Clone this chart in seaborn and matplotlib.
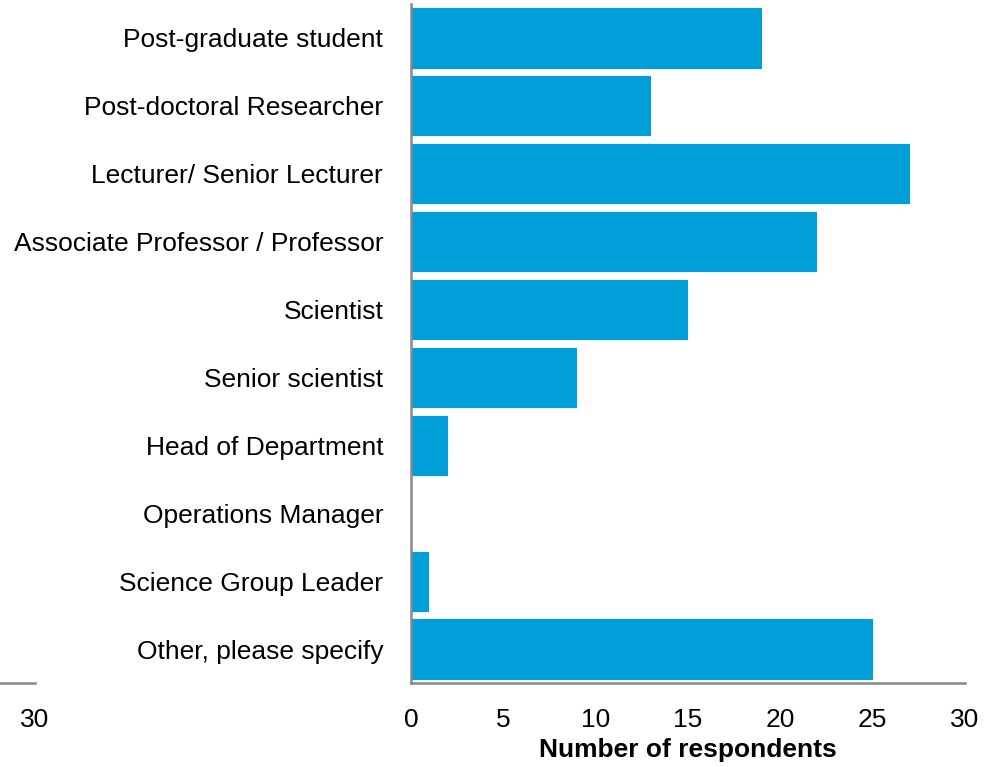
import numpy as np
import pandas as pd
import matplotlib
matplotlib.use("Agg")
import matplotlib.pyplot as plt
import seaborn as sns

roles = ["Post-graduate student", "Post-doctoral Researcher", "Lecturer/ Senior Lecturer",
         "Associate Professor / Professor", "Scientist", "Senior scientist",
         "Head of Department", "Operations Manager", "Science Group Leader",
         "Other, please specify"]
counts = [19, 13, 27, 22, 15, 9, 2, 0, 1, 25]
xticks = [0, 5, 10, 15, 20, 25, 30]

df = pd.DataFrame({"role": roles, "count": counts})

sns.set_style("white")
plt.rcParams["font.family"] = ["Liberation Sans", "DejaVu Sans"]
plt.rcParams["text.color"] = "black"
plt.rcParams["xtick.color"] = "black"
plt.rcParams["ytick.color"] = "black"
plt.rcParams["axes.labelcolor"] = "black"

fig = plt.figure(figsize=(9.86, 7.67), dpi=100)
ax = fig.add_axes([411 / 986, 84 / 767, 554 / 986, 679 / 767])

sns.barplot(data=df, x="count", y="role", color="#009fda", saturation=1,
            width=0.9, edgecolor="white", linewidth=0.6, ax=ax)

ax.set_xlim(0, 30)
ax.set_ylim(len(roles) - 0.5, -0.5)
ax.set_xticks(xticks)
ax.set_ylabel("")
ax.set_xlabel("Number of respondents", fontsize=19, fontweight="bold", labelpad=4)
ax.tick_params(axis="x", labelsize=19, length=0, pad=18)
ax.tick_params(axis="y", labelsize=19, length=0, pad=20)
for s in ["top", "right"]:
    ax.spines[s].set_visible(False)
for s in ["left", "bottom"]:
    ax.spines[s].set_color("#888888")
    ax.spines[s].set_linewidth(1.8)

# stray piece of a mirrored axis at the far left
ax2 = fig.add_axes([0, 84 / 767, 35 / 986, 679 / 767])
ax2.set_xlim(0, 30)
ax2.set_xticks([30])
ax2.set_yticks([])
ax2.tick_params(axis="x", labelsize=19, length=0, pad=18)
for s in ["top", "right", "left"]:
    ax2.spines[s].set_visible(False)
ax2.spines["bottom"].set_color("#888888")
ax2.spines["bottom"].set_linewidth(1.8)
ax2.patch.set_alpha(0)

fig.savefig("out.png", dpi=100)
